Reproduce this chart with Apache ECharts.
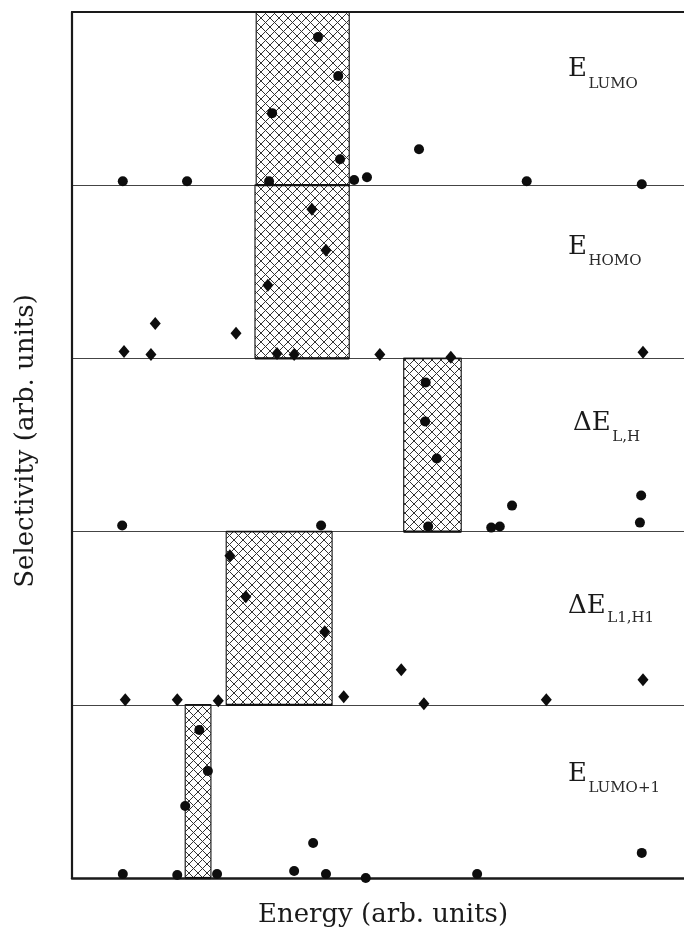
<!DOCTYPE html>
<html>
<head>
<meta charset="utf-8">
<script src="https://cdn.jsdelivr.net/npm/echarts@6/dist/echarts.min.js"></script>
<style>
html,body{margin:0;padding:0;background:#fff;}
#chart{width:684px;height:938px;}
</style>
</head>
<body>
<div id="chart"></div>
<script>
// ---- data (energy in arb. units 0..100, selectivity 0..1 within each band) ----
const bandMain = ['E', 'E', 'ΔE', 'ΔE', 'E'];
const bandSub = ['LUMO', 'HOMO', 'L,H', 'L1,H1', 'LUMO+1'];
// hatched optimum windows [start, end] per band (top to bottom)
const windows = [[30.1, 45.3], [29.9, 45.3], [54.2, 63.6], [25.2, 42.5], [18.5, 22.7]];
// points [energy, selectivity]
const eLumo = [[8.3,0.023],[18.8,0.023],[40.2,0.855],[43.5,0.63],[32.7,0.416],[43.8,0.15],[32.2,0.023],[46.1,0.03],[48.2,0.046],[56.7,0.208],[74.3,0.023],[93.1,0.006]];
const eHomo = [[39.2,0.861],[41.5,0.624],[32.0,0.422],[13.6,0.202],[26.8,0.145],[8.5,0.04],[12.9,0.023],[33.5,0.029],[36.3,0.023],[50.3,0.023],[61.9,0.006],[93.3,0.035]];
const dELH = [[57.8,0.861],[57.7,0.636],[59.6,0.422],[58.2,0.029],[8.2,0.035],[40.7,0.035],[68.5,0.023],[69.9,0.029],[71.9,0.15],[93.0,0.208],[92.8,0.052]];
const dEL1H1 = [[25.8,0.861],[28.4,0.624],[41.3,0.422],[53.8,0.202],[93.3,0.145],[8.7,0.029],[17.2,0.029],[23.9,0.023],[44.4,0.046],[57.5,0.006],[77.5,0.029]];
const eLumo1 = [[20.8,0.855],[22.2,0.618],[18.5,0.416],[39.4,0.202],[93.1,0.145],[8.3,0.023],[17.2,0.017],[23.7,0.023],[36.3,0.04],[41.5,0.023],[48.0,0.0],[66.2,0.023]];
const bandPoints = [eLumo, eHomo, dELH, dEL1H1, eLumo1];
const bandSymbol = ['circle', 'diamond', 'circle', 'diamond', 'circle'];

// ---- helpers ----
const nBands = bandPoints.length;
function baseOf(i) { return nBands - 1 - i; }

const T = 9;
const pc = document.createElement('canvas');
pc.width = T; pc.height = T;
(function () {
  const g = pc.getContext('2d');
  g.strokeStyle = '#333';
  g.lineWidth = 1.0;
  g.beginPath();
  g.moveTo(-1, -1); g.lineTo(T + 1, T + 1);
  g.moveTo(T + 1, -1); g.lineTo(-1, T + 1);
  g.stroke();
})();

const mctx = document.createElement('canvas').getContext('2d');
function textW(t, size) { mctx.font = size + 'px "DejaVu Serif"'; return mctx.measureText(t).width; }

const rectData = windows.map((w, i) => [w[0], w[1], baseOf(i)]);

const series = [{
  type: 'custom',
  data: rectData,
  encode: { x: [0, 1], y: 2 },
  z: 2,
  renderItem: function (params, api) {
    const x0 = api.value(0), x1 = api.value(1), b = api.value(2);
    const p0 = api.coord([x0, b + 1]);
    const p1 = api.coord([x1, b]);
    return {
      type: 'group',
      children: [
        { type: 'rect', shape: { x: p0[0], y: p0[1], width: p1[0] - p0[0], height: p1[1] - p0[1] },
          style: { fill: { image: pc, repeat: 'repeat' }, stroke: '#222', lineWidth: 1.2 } },
        { type: 'line', shape: { x1: p0[0], y1: p1[1], x2: p1[0], y2: p1[1] },
          style: { stroke: '#111', lineWidth: 2.2 } },
        { type: 'line', shape: { x1: p0[0], y1: p0[1], x2: p1[0], y2: p0[1] },
          style: { stroke: '#111', lineWidth: 1.5 } }
      ]
    };
  }
}];
bandPoints.forEach((pts, i) => {
  series.push({
    type: 'scatter',
    z: 5,
    symbol: bandSymbol[i],
    symbolSize: bandSymbol[i] === 'circle' ? 10 : [11, 13],
    itemStyle: { color: '#0d0d0d', opacity: 1 },
    data: pts.map(p => [p[0], p[1] + baseOf(i)])
  });
});

// band labels (layout positions in px)
const labelPos = [[568, 69.5, 84.5], [568, 247, 261.5], [573, 423.5, 437], [568, 606.5, 618], [568, 774, 788]];
const graphics = [];
labelPos.forEach((lp, i) => {
  const mw = textW(bandMain[i], 26);
  graphics.push({ type: 'text', x: lp[0], y: lp[1], z: 10,
    style: { text: bandMain[i], font: '26px "DejaVu Serif"', fill: '#1a1a1a', textAlign: 'left', textVerticalAlign: 'middle', align: 'left', verticalAlign: 'middle' } });
  graphics.push({ type: 'text', x: lp[0] + mw + 1.5, y: lp[2], z: 10,
    style: { text: bandSub[i], font: '15px "DejaVu Serif"', fill: '#2a2a2a', textAlign: 'left', textVerticalAlign: 'middle', align: 'left', verticalAlign: 'middle' } });
});
graphics.push({ type: 'text', x: 383, y: 915, z: 10,
  style: { text: 'Energy (arb. units)', font: '26px "DejaVu Serif"', fill: '#1a1a1a', textAlign: 'center', textVerticalAlign: 'middle', align: 'center', verticalAlign: 'middle' } });
graphics.push({ type: 'text', x: 26, y: 441, rotation: Math.PI / 2, z: 10,
  style: { text: 'Selectivity (arb. units)', font: '26px "DejaVu Serif"', fill: '#1a1a1a', textAlign: 'center', textVerticalAlign: 'middle', align: 'center', verticalAlign: 'middle' } });

const chart = echarts.init(document.getElementById('chart'), null, { renderer: 'canvas' });
chart.setOption({
  animation: false,
  backgroundColor: '#fff',
  grid: { left: 72, right: 0, top: 12, bottom: 60, containLabel: false },
  xAxis: [
    { type: 'value', min: 0, max: 100, position: 'bottom',
      axisLine: { show: true, onZero: false, lineStyle: { color: '#1a1a1a', width: 2.5 } },
      axisTick: { show: false }, axisLabel: { show: false }, splitLine: { show: false } },
    { type: 'value', min: 0, max: 100, position: 'top',
      axisLine: { show: true, onZero: false, lineStyle: { color: '#1a1a1a', width: 2.2 } },
      axisTick: { show: false }, axisLabel: { show: false }, splitLine: { show: false } }
  ],
  yAxis: {
    type: 'value', min: 0, max: 5, interval: 1,
    axisLine: { show: true, onZero: false, lineStyle: { color: '#1a1a1a', width: 2.2 } },
    axisTick: { show: false }, axisLabel: { show: false },
    splitLine: { show: true, lineStyle: { color: '#444', width: 1 } }
  },
  graphic: graphics,
  series: series
});
</script>
</body>
</html>
